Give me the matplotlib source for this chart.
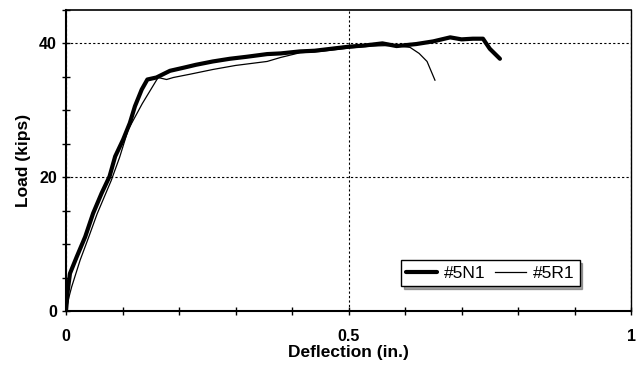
import numpy as np
import matplotlib
matplotlib.use("Agg")
import matplotlib.pyplot as plt
from matplotlib.ticker import MultipleLocator

plt.rcParams['font.family'] = ['Liberation Sans', 'DejaVu Sans']

# specimen #5N1 (thick line)
n1_defl = [0.0, 0.003, 0.007, 0.019, 0.034, 0.048, 0.063, 0.077, 0.087,
           0.101, 0.113, 0.122, 0.134, 0.144, 0.16, 0.184, 0.21, 0.23, 0.26, 0.29,
           0.32, 0.356, 0.38, 0.414, 0.44, 0.47, 0.5, 0.53, 0.56, 0.585, 0.62,
           0.65, 0.68, 0.7, 0.72, 0.738, 0.75, 0.768]
n1_load = [0.0, 3.0, 5.6, 8.1, 11.1, 14.6, 17.6, 20.1, 23.1,
           25.6, 28.1, 30.6, 33.1, 34.6, 34.9, 35.9, 36.4, 36.8, 37.3, 37.7,
           38.0, 38.4, 38.5, 38.8, 38.9, 39.2, 39.5, 39.7, 40.0, 39.6, 39.9,
           40.3, 40.9, 40.6, 40.7, 40.7, 39.2, 37.7]

# specimen #5R1 (thin line)
r1_defl = [0.0, 0.005, 0.01, 0.025, 0.04, 0.055, 0.07, 0.08, 0.095,
           0.11, 0.135, 0.163, 0.178, 0.19, 0.22, 0.26, 0.3, 0.356, 0.38,
           0.414, 0.45, 0.5, 0.54, 0.58, 0.609, 0.625, 0.639, 0.653]
r1_load = [0.0, 2.0, 3.6, 7.6, 11.0, 14.5, 17.5, 19.5, 23.0,
           27.1, 31.0, 34.9, 34.6, 34.9, 35.4, 36.1, 36.7, 37.3, 37.9,
           38.6, 38.8, 39.3, 39.6, 39.7, 39.4, 38.5, 37.3, 34.5]

fig = plt.figure(figsize=(6.39, 3.68), dpi=100)
ax = fig.add_axes([0.1033, 0.155, 0.8842, 0.818])

ax.plot(n1_defl, n1_load, color='black', lw=3.0, label='#5N1', solid_capstyle='round')
ax.plot(r1_defl, r1_load, color='black', lw=0.9, label='#5R1')

ax.set_xlim(0, 1)
ax.set_ylim(0, 45)
ax.xaxis.set_minor_locator(MultipleLocator(0.1))
ax.yaxis.set_minor_locator(MultipleLocator(5))
ax.set_xticks([0, 0.5, 1])
ax.set_xticklabels(['0', '0.5', '1'])
ax.set_yticks([0, 20, 40])
ax.set_yticklabels(['0', '20', '40'])
ax.tick_params(which='both', direction='inout', length=6, width=1, labelsize=11.5)
ax.tick_params(axis='x', pad=10)
for lab in ax.get_xticklabels() + ax.get_yticklabels():
    lab.set_fontweight('bold')

ax.grid(True, which='major', linestyle=(0, (2, 2)), color='black', lw=0.8)

ax.spines['left'].set_linewidth(1.5)
ax.spines['bottom'].set_linewidth(1.5)
ax.spines['top'].set_linewidth(1.2)
ax.spines['right'].set_linewidth(1.0)

ax.set_xlabel('Deflection (in.)', fontsize=12.5, fontweight='bold', labelpad=1)
ax.set_ylabel('Load (kips)', fontsize=12.5, fontweight='bold', labelpad=6)

leg = ax.legend(loc='center', bbox_to_anchor=(0.751, 0.126), ncol=2,
                fancybox=False, shadow=True, framealpha=1, edgecolor='black',
                fontsize=12.5, handlelength=1.8, columnspacing=0.5, handletextpad=0.4,
                borderpad=0.3, borderaxespad=0)
leg.get_frame().set_linewidth(1.0)

fig.savefig('out.png', dpi=100)
